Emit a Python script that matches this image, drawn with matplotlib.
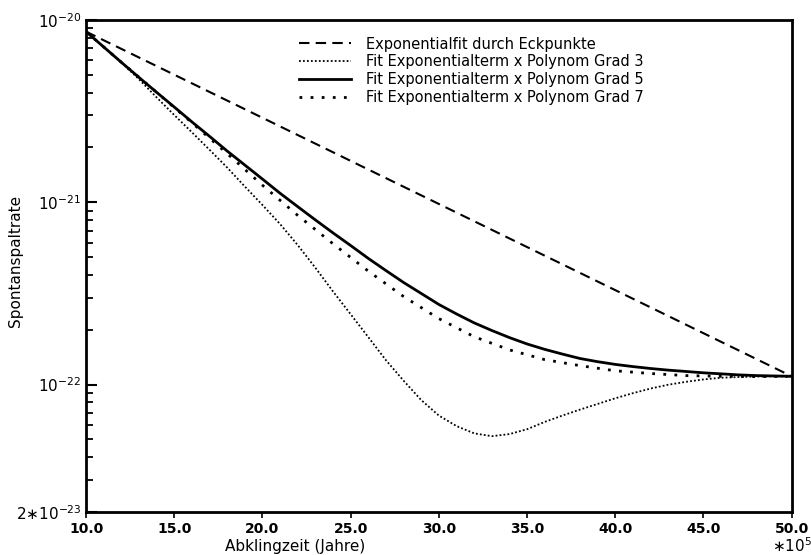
import matplotlib
matplotlib.use('Agg')
import matplotlib.pyplot as plt
from matplotlib.ticker import FixedLocator, LogLocator, NullFormatter

# values (x in units of 10^5 years)
x_exp = [10, 50]
y_exp = [8.63e-21, 1.11e-22]

x_grad3 = list(range(10, 51))
y_grad3 = [8.63e-21, 7.11e-21, 5.85e-21, 4.73e-21, 3.76e-21, 3.01e-21, 2.42e-21,
           1.94e-21, 1.55e-21, 1.22e-21, 9.66e-22, 7.59e-22, 5.82e-22, 4.37e-22,
           3.24e-22, 2.43e-22, 1.82e-22, 1.36e-22, 1.05e-22, 8.22e-23, 6.76e-23,
           5.92e-23, 5.40e-23, 5.21e-23, 5.35e-23, 5.69e-23, 6.24e-23, 6.76e-23,
           7.29e-23, 7.83e-23, 8.41e-23, 8.97e-23, 9.51e-23, 9.98e-23, 1.035e-22,
           1.067e-22, 1.09e-22, 1.10e-22, 1.107e-22, 1.11e-22, 1.11e-22]

x_grad5 = list(range(10, 51))
y_grad5 = [8.63e-21, 7.11e-21, 5.86e-21, 4.84e-21, 4.01e-21, 3.33e-21, 2.76e-21,
           2.30e-21, 1.91e-21, 1.60e-21, 1.34e-21, 1.12e-21, 9.46e-22, 8.00e-22,
           6.79e-22, 5.79e-22, 4.92e-22, 4.22e-22, 3.63e-22, 3.16e-22, 2.75e-22,
           2.44e-22, 2.18e-22, 1.98e-22, 1.81e-22, 1.67e-22, 1.56e-22, 1.47e-22,
           1.39e-22, 1.335e-22, 1.29e-22, 1.255e-22, 1.225e-22, 1.20e-22, 1.18e-22,
           1.16e-22, 1.145e-22, 1.13e-22, 1.12e-22, 1.115e-22, 1.11e-22]

x_grad7 = list(range(10, 51, 2))
y_grad7 = [8.63e-21, 5.86e-21, 4.01e-21, 2.73e-21, 1.85e-21, 1.24e-21, 8.47e-22,
           5.92e-22, 4.19e-22, 3.04e-22, 2.30e-22, 1.83e-22, 1.55e-22, 1.37e-22,
           1.27e-22, 1.19e-22, 1.15e-22, 1.12e-22, 1.11e-22, 1.106e-22, 1.11e-22]

labels = ['Exponentialfit durch Eckpunkte',
          'Fit Exponentialterm x Polynom Grad 3',
          'Fit Exponentialterm x Polynom Grad 5',
          'Fit Exponentialterm x Polynom Grad 7']

xticks = [10, 15, 20, 25, 30, 35, 40, 45, 50]
xticklabels = ['10.0', '15.0', '20.0', '25.0', '30.0', '35.0', '40.0', '45.0', '50.0']
yticks = [2e-23, 1e-22, 1e-21, 1e-20]
yticklabels = [r'2$\ast$10$^{-23}$', r'10$^{-22}$', r'10$^{-21}$', r'10$^{-20}$']

plt.rcParams['font.family'] = ['DejaVu Sans']
fig = plt.figure(figsize=(8.12, 5.55), dpi=100)
ax = fig.add_axes([0.106, 0.0775, 0.869, 0.8865])

ax.plot(x_exp, y_exp, color='k', lw=1.5, linestyle=(0, (5, 3)), label=labels[0])
ax.plot(x_grad3, y_grad3, color='k', lw=1.3, linestyle=(0, (1, 1.2)), label=labels[1])
ax.plot(x_grad5, y_grad5, color='k', lw=2.0, linestyle='-', label=labels[2])
ax.plot(x_grad7, y_grad7, color='k', lw=2.0, linestyle=(0, (1, 3)), label=labels[3])

ax.set_yscale('log')
ax.set_xlim(10, 50)
ax.set_ylim(2e-23, 1e-20)

ax.yaxis.set_major_locator(FixedLocator(yticks))
ax.set_yticklabels(yticklabels)
ax.yaxis.set_minor_locator(LogLocator(base=10, subs=range(2, 10)))
ax.yaxis.set_minor_formatter(NullFormatter())
ax.tick_params(axis='y', which='major', direction='in', length=8, width=1.5, labelsize=11)
ax.tick_params(axis='y', which='minor', direction='in', length=5, width=1.3)

ax.set_xticks(xticks)
ax.set_xticklabels(xticklabels, fontweight='bold')
ax.tick_params(axis='x', which='major', direction='out', length=4, width=1.2, labelsize=10)

for s in ax.spines.values():
    s.set_linewidth(2)

ax.set_xlabel('Abklingzeit (Jahre)', fontsize=11)
ax.xaxis.set_label_coords(0.296, -0.055)
ax.set_ylabel('Spontanspaltrate', fontsize=11)
ax.yaxis.set_label_coords(-0.09, 0.51)
ax.text(1.0, -0.068, r'$\ast$10$^{5}$', transform=ax.transAxes, ha='center',
        va='center', fontsize=11)

ax.legend(loc='upper left', bbox_to_anchor=(0.283, 0.993), frameon=False,
          fontsize=10.5, handlelength=3.6, handletextpad=1.0, labelspacing=0.2)

fig.savefig('out.png', dpi=100)
